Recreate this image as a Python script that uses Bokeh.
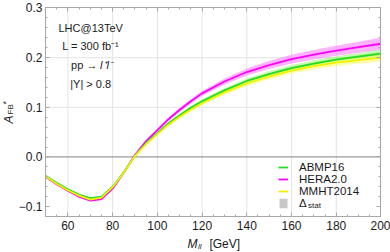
import numpy as np
from bokeh.plotting import figure
from bokeh.models import (Range1d, LinearAxis, Legend, LegendItem, Label,
                          FixedTicker, CustomJSTickFormatter)
from bokeh.embed import file_html
from bokeh.resources import INLINE

# ---------------- data ----------------
mass = [50, 55, 60, 65, 70, 75, 80, 85, 90, 95, 100, 105, 110, 115, 120,
        130, 140, 150, 160, 170, 180, 190, 200]
abmp16 = [-0.038, -0.052, -0.065, -0.076, -0.083, -0.080, -0.060, -0.031, 0.002,
          0.028, 0.048, 0.068, 0.084, 0.099, 0.112, 0.134, 0.153, 0.167, 0.179,
          0.188, 0.196, 0.202, 0.208]
abmp16_err = [0.0015, 0.0015, 0.0015, 0.0015, 0.0015, 0.0015, 0.0015, 0.0015, 0.0015,
              0.002, 0.002, 0.0025, 0.003, 0.0035, 0.004, 0.0045, 0.005, 0.0055, 0.006,
              0.0065, 0.007, 0.0075, 0.008]
hera20 = [-0.040, -0.055, -0.068, -0.080, -0.088, -0.085, -0.064, -0.032, 0.004,
          0.032, 0.054, 0.076, 0.095, 0.112, 0.128, 0.152, 0.171, 0.185, 0.197,
          0.206, 0.214, 0.221, 0.228]
hera20_err = [0.002, 0.002, 0.002, 0.002, 0.002, 0.002, 0.002, 0.002, 0.002,
              0.0025, 0.003, 0.0035, 0.004, 0.0045, 0.005, 0.006, 0.007, 0.008, 0.009,
              0.0095, 0.010, 0.011, 0.012]
mmht2014 = [-0.039, -0.054, -0.067, -0.078, -0.086, -0.082, -0.061, -0.032, 0.002,
            0.026, 0.046, 0.065, 0.081, 0.095, 0.108, 0.130, 0.148, 0.162, 0.174,
            0.183, 0.190, 0.195, 0.200]
mmht2014_err = [0.0015, 0.0015, 0.0015, 0.0015, 0.0015, 0.0015, 0.0015, 0.0015, 0.0015,
                0.002, 0.002, 0.0025, 0.003, 0.0035, 0.004, 0.0045, 0.005, 0.0055, 0.006,
                0.0065, 0.007, 0.0075, 0.008]
stat_err = [0.0008, 0.0008, 0.0008, 0.0008, 0.0008, 0.0008, 0.0008, 0.0008, 0.0008,
            0.0009, 0.001, 0.001, 0.0011, 0.0012, 0.0013, 0.0015, 0.0017, 0.0019, 0.0021,
            0.0023, 0.0025, 0.0027, 0.003]

series_names = ["ABMP16", "HERA2.0", "MMHT2014"]
x_lim = [50, 200]
y_lim = [-0.12, 0.3]
x_ticks = [60, 80, 100, 120, 140, 160, 180, 200]
x_minor = list(range(50, 201, 5))
y_ticks = [-0.1, 0.0, 0.1, 0.2, 0.3]
y_minor = [round(v, 2) for v in np.arange(-0.12, 0.301, 0.02)]
x_grid_ticks = [60, 80, 100, 120, 140, 160, 180]
y_grid_ticks = [0.1, 0.2]
info_lines = ["LHC@13TeV", "L = 300 fb\u207b\u00b9", "|Y| > 0.8"]

FONT = "Liberation Sans"
TXT = "#1a1a1a"
FRAME = "#a8a8a8"
GRID = "#e4e4e4"

p = figure(width=390, height=252, x_range=Range1d(29.88, 204.25),
           y_range=Range1d(-0.1925, 0.3151),
           x_axis_location=None, y_axis_location=None,
           output_backend="svg", toolbar_location=None,
           min_border=0, min_border_left=0, min_border_right=0,
           min_border_top=0, min_border_bottom=0)
p.background_fill_color = "white"
p.border_fill_color = "white"
p.outline_line_color = None
p.grid.visible = False

xt = FixedTicker(ticks=x_ticks, minor_ticks=x_minor)
yt = FixedTicker(ticks=y_ticks, minor_ticks=y_minor)


def make_axis(ticker, loc, bounds, labels):
    ax = LinearAxis(ticker=ticker, fixed_location=loc, bounds=bounds)
    ax.axis_line_color = FRAME
    ax.major_tick_line_color = FRAME
    ax.minor_tick_line_color = FRAME
    ax.major_tick_in = 4
    ax.major_tick_out = 0
    ax.minor_tick_in = 2
    ax.minor_tick_out = 0
    ax.major_label_text_font = FONT
    ax.major_label_text_font_size = "12px"
    if labels:
        ax.major_label_text_color = TXT
    else:
        ax.major_label_text_color = None
    return ax


ax_l = make_axis(yt, x_lim[0], (y_lim[0], y_lim[1]), True)
ax_l.major_label_standoff = 3
ax_l.formatter = CustomJSTickFormatter(
    code="return (tick < -1e-9 ? '\u2212' : '') + Math.abs(tick).toFixed(1);")
p.add_layout(ax_l, "left")
ax_b = make_axis(xt, y_lim[0], (x_lim[0], x_lim[1]), True)
ax_b.major_label_standoff = 4
p.add_layout(ax_b, "below")
ax_r = make_axis(yt, x_lim[1], (y_lim[0], y_lim[1]), False)
p.add_layout(ax_r, "right")
ax_t = make_axis(xt, y_lim[1], (x_lim[0], x_lim[1]), False)
p.add_layout(ax_t, "above")

# grid lines and zero line, drawn from the tick arrays
p.segment(x0=x_grid_ticks, y0=[y_lim[0]] * len(x_grid_ticks),
          x1=x_grid_ticks, y1=[y_lim[1]] * len(x_grid_ticks),
          line_color=GRID, line_width=1)
p.segment(x0=[x_lim[0]] * len(y_grid_ticks), y0=y_grid_ticks,
          x1=[x_lim[1]] * len(y_grid_ticks), y1=y_grid_ticks,
          line_color=GRID, line_width=1)
p.segment(x0=[x_lim[0]], y0=[0.0], x1=[x_lim[1]], y1=[0.0],
          line_color="#808080", line_width=1)

m = np.array(mass)
a = np.array(abmp16); ae = np.array(abmp16_err)
h = np.array(hera20); he = np.array(hera20_err)
y = np.array(mmht2014); ye = np.array(mmht2014_err)
st = np.array(stat_err)

r_stat = p.varea(x=m, y1=a - st, y2=a + st, fill_color="#9a9a9a", fill_alpha=0.55)
r_hb = p.varea(x=m, y1=h - he, y2=h + he, fill_color="#ff66ff", fill_alpha=0.5)
r_ab = p.varea(x=m, y1=a - ae, y2=a + ae, fill_color="#77ff44", fill_alpha=0.45)
r_yb = p.varea(x=m, y1=y - ye, y2=y + ye, fill_color="#ffff55", fill_alpha=0.5)

r_h = p.line(m, h, line_color="#ff00ff", line_width=1.8)
r_a = p.line(m, a, line_color="#22dd22", line_width=1.8)
r_y = p.line(m, y, line_color="#f2f200", line_width=1.8)

legend = Legend(items=[LegendItem(label=series_names[0], renderers=[r_a]),
                       LegendItem(label=series_names[1], renderers=[r_h]),
                       LegendItem(label=series_names[2], renderers=[r_y]),
                       LegendItem(label="\u0394", renderers=[r_stat])],
                location=(278, 43), orientation="vertical")
legend.label_text_font = FONT
legend.label_text_font_size = "11.5px"
legend.label_text_color = TXT
legend.glyph_width = 10
legend.glyph_height = 12
legend.label_height = 12
legend.label_standoff = 11
legend.spacing = 0
legend.padding = 0
legend.margin = 0
legend.border_line_alpha = 0
legend.background_fill_alpha = 0
p.add_layout(legend, "center")


def lab(x, yv, text, size, style="normal", align="left", angle=0.0):
    p.add_layout(Label(x=x, y=yv, text=text, text_font=FONT, text_font_size=size,
                       text_font_style=style, text_color=TXT, text_align=align,
                       text_baseline="middle", angle=angle))


# subscript of Delta_stat
lab(167.4, -0.0979, "stat", "8px")

# info text block
for t, yy in zip(info_lines, [0.2607, 0.2234, 0.1469]):
    lab(70.2, yy, t, "11px", align="center")
lab(73.2, 0.1842, "pp \u2192", "11px", align="right")
lab(74.4, 0.1842, "l\u207al\u207b", "11px", style="italic")

# x axis title: M_ll [GeV]
lab(113.5, -0.1744, "M", "12px", style="italic")
lab(118.2, -0.1805, "ll", "8px", style="italic")
lab(123.3, -0.1744, "[GeV]", "12px")

# y axis title: A_FB^*
lab(33.7, 0.0673, "A", "12px", style="italic", angle=np.pi / 2)
lab(34.4, 0.0855, "FB", "8px", angle=np.pi / 2)
lab(32.2, 0.1056, "*", "9px", angle=np.pi / 2)

open("out.html", "w").write(file_html(p, INLINE))
